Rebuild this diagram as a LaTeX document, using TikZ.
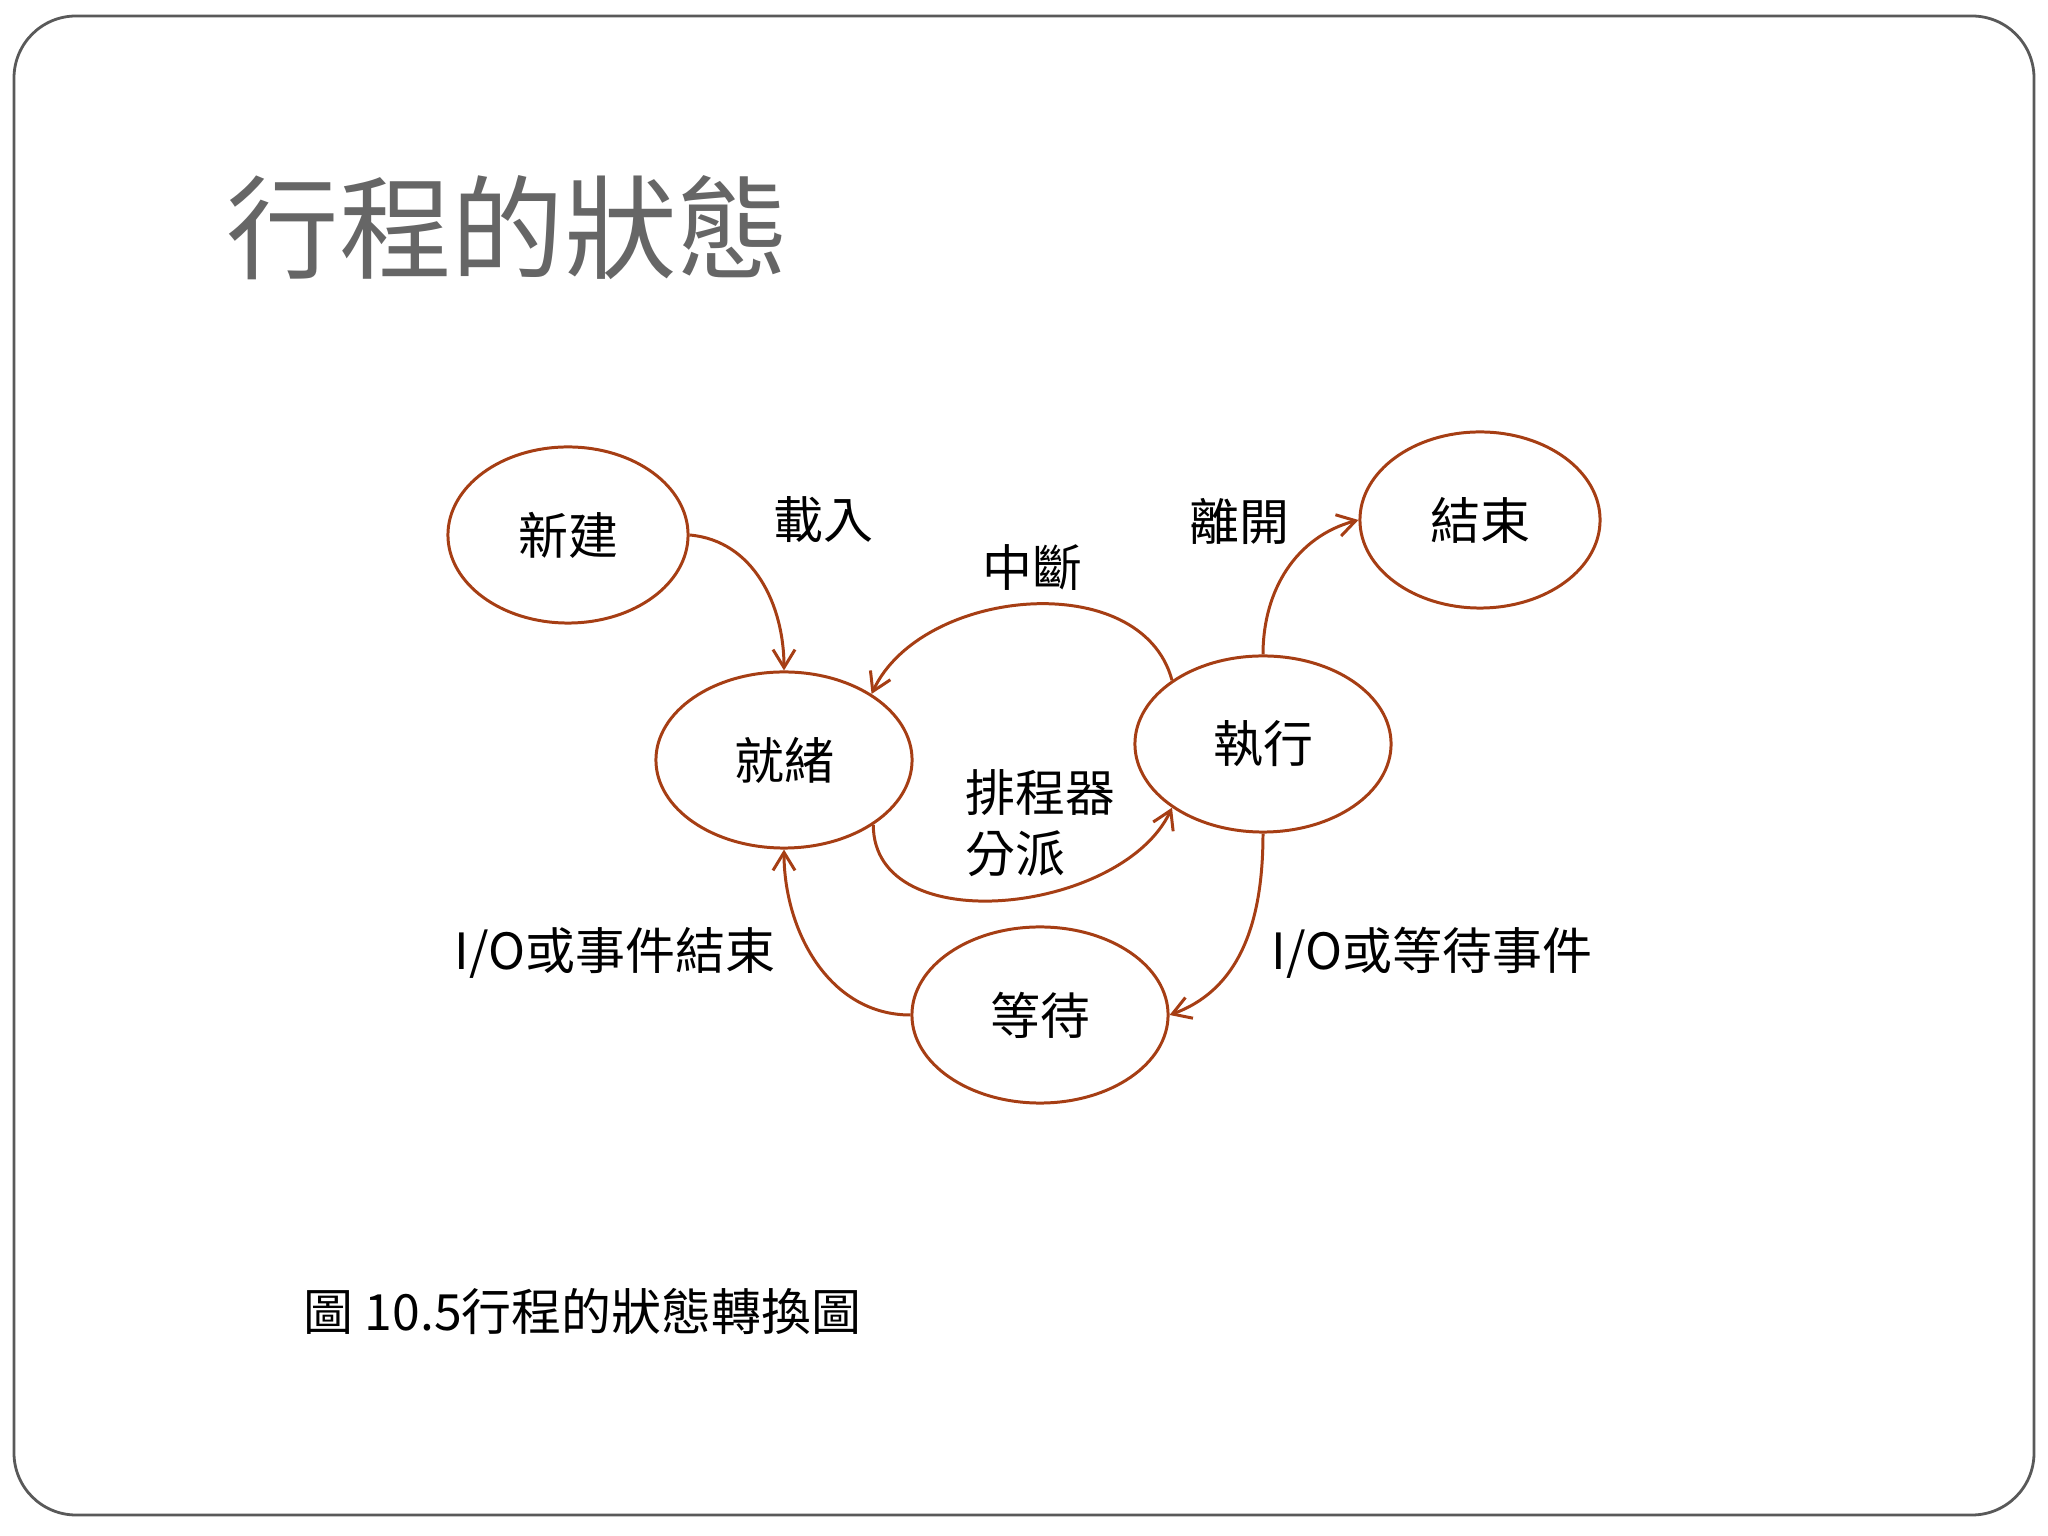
\documentclass[tikz,border=0pt]{standalone}
\usepackage{fontspec}
\setmainfont{Noto Sans CJK TC}
\usetikzlibrary{shapes.geometric,arrows.meta}
\definecolor{rustline}{RGB}{166,62,20}
\definecolor{titlegray}{RGB}{102,102,102}

\begin{document}
\begin{tikzpicture}[x=0.01cm,y=0.01cm,
  proc/.style={ellipse,draw=rustline,line width=0.85pt,minimum width=2.56cm,minimum height=1.76cm,inner sep=0pt,font=\fontsize{14.2}{17}\selectfont},
  lbl/.style={inner sep=0pt,font=\fontsize{14.2}{17}\selectfont},
  trans/.style={draw=rustline,line width=0.85pt,-{Straight Barb[length=1.8mm,width=2.2mm]}}]
\useasboundingbox (0,0) rectangle (2048,1536);
\draw[black!65,line width=0.8pt,rounded corners=0.62cm] (14,21) rectangle (2034,1520);
\node[anchor=west,inner sep=0pt,text=titlegray,font=\fontsize{32}{38}\selectfont] (title) at (226,1308) {行程的狀態};
\node[proc,minimum width=2.40cm] (new) at (568,1001) {新建};
\node[proc,minimum width=2.40cm] (done) at (1480,1016) {結束};
\node[proc] (ready) at (784,776) {就緒};
\node[proc] (run) at (1263,792) {執行};
\node[proc] (wait) at (1040,521) {等待};
\node[lbl] (load) at (823,1016) {載入};
\node[lbl] (leave) at (1239,1015) {離開};
\node[lbl] (intr) at (1032,968) {中斷};
\node[lbl,anchor=west] (sched) at (965,743) {排程器};
\node[lbl,anchor=west] (disp) at (965,682) {分派};
\node[lbl] (iodone) at (615,583) {I/O或事件結束};
\node[lbl] (iowait) at (1432,583) {I/O或等待事件};
\node[lbl,anchor=west] (caption) at (303,224) {圖 10.5行程的狀態轉換圖};
\draw[trans] (new.east) to[out=-5,in=90] (ready.north);
\draw[trans] (run.145) to[out=105,in=65] (ready.37);
\draw[trans] (ready.-36) to[out=-90,in=-115] (run.215);
\draw[trans] (run.north) to[out=90,in=195] (done.west);
\draw[trans] (run.south) to[out=-90,in=20] (wait.east);
\draw[trans] (wait.west) to[out=180,in=-90] (ready.south);
\end{tikzpicture}
\end{document}
